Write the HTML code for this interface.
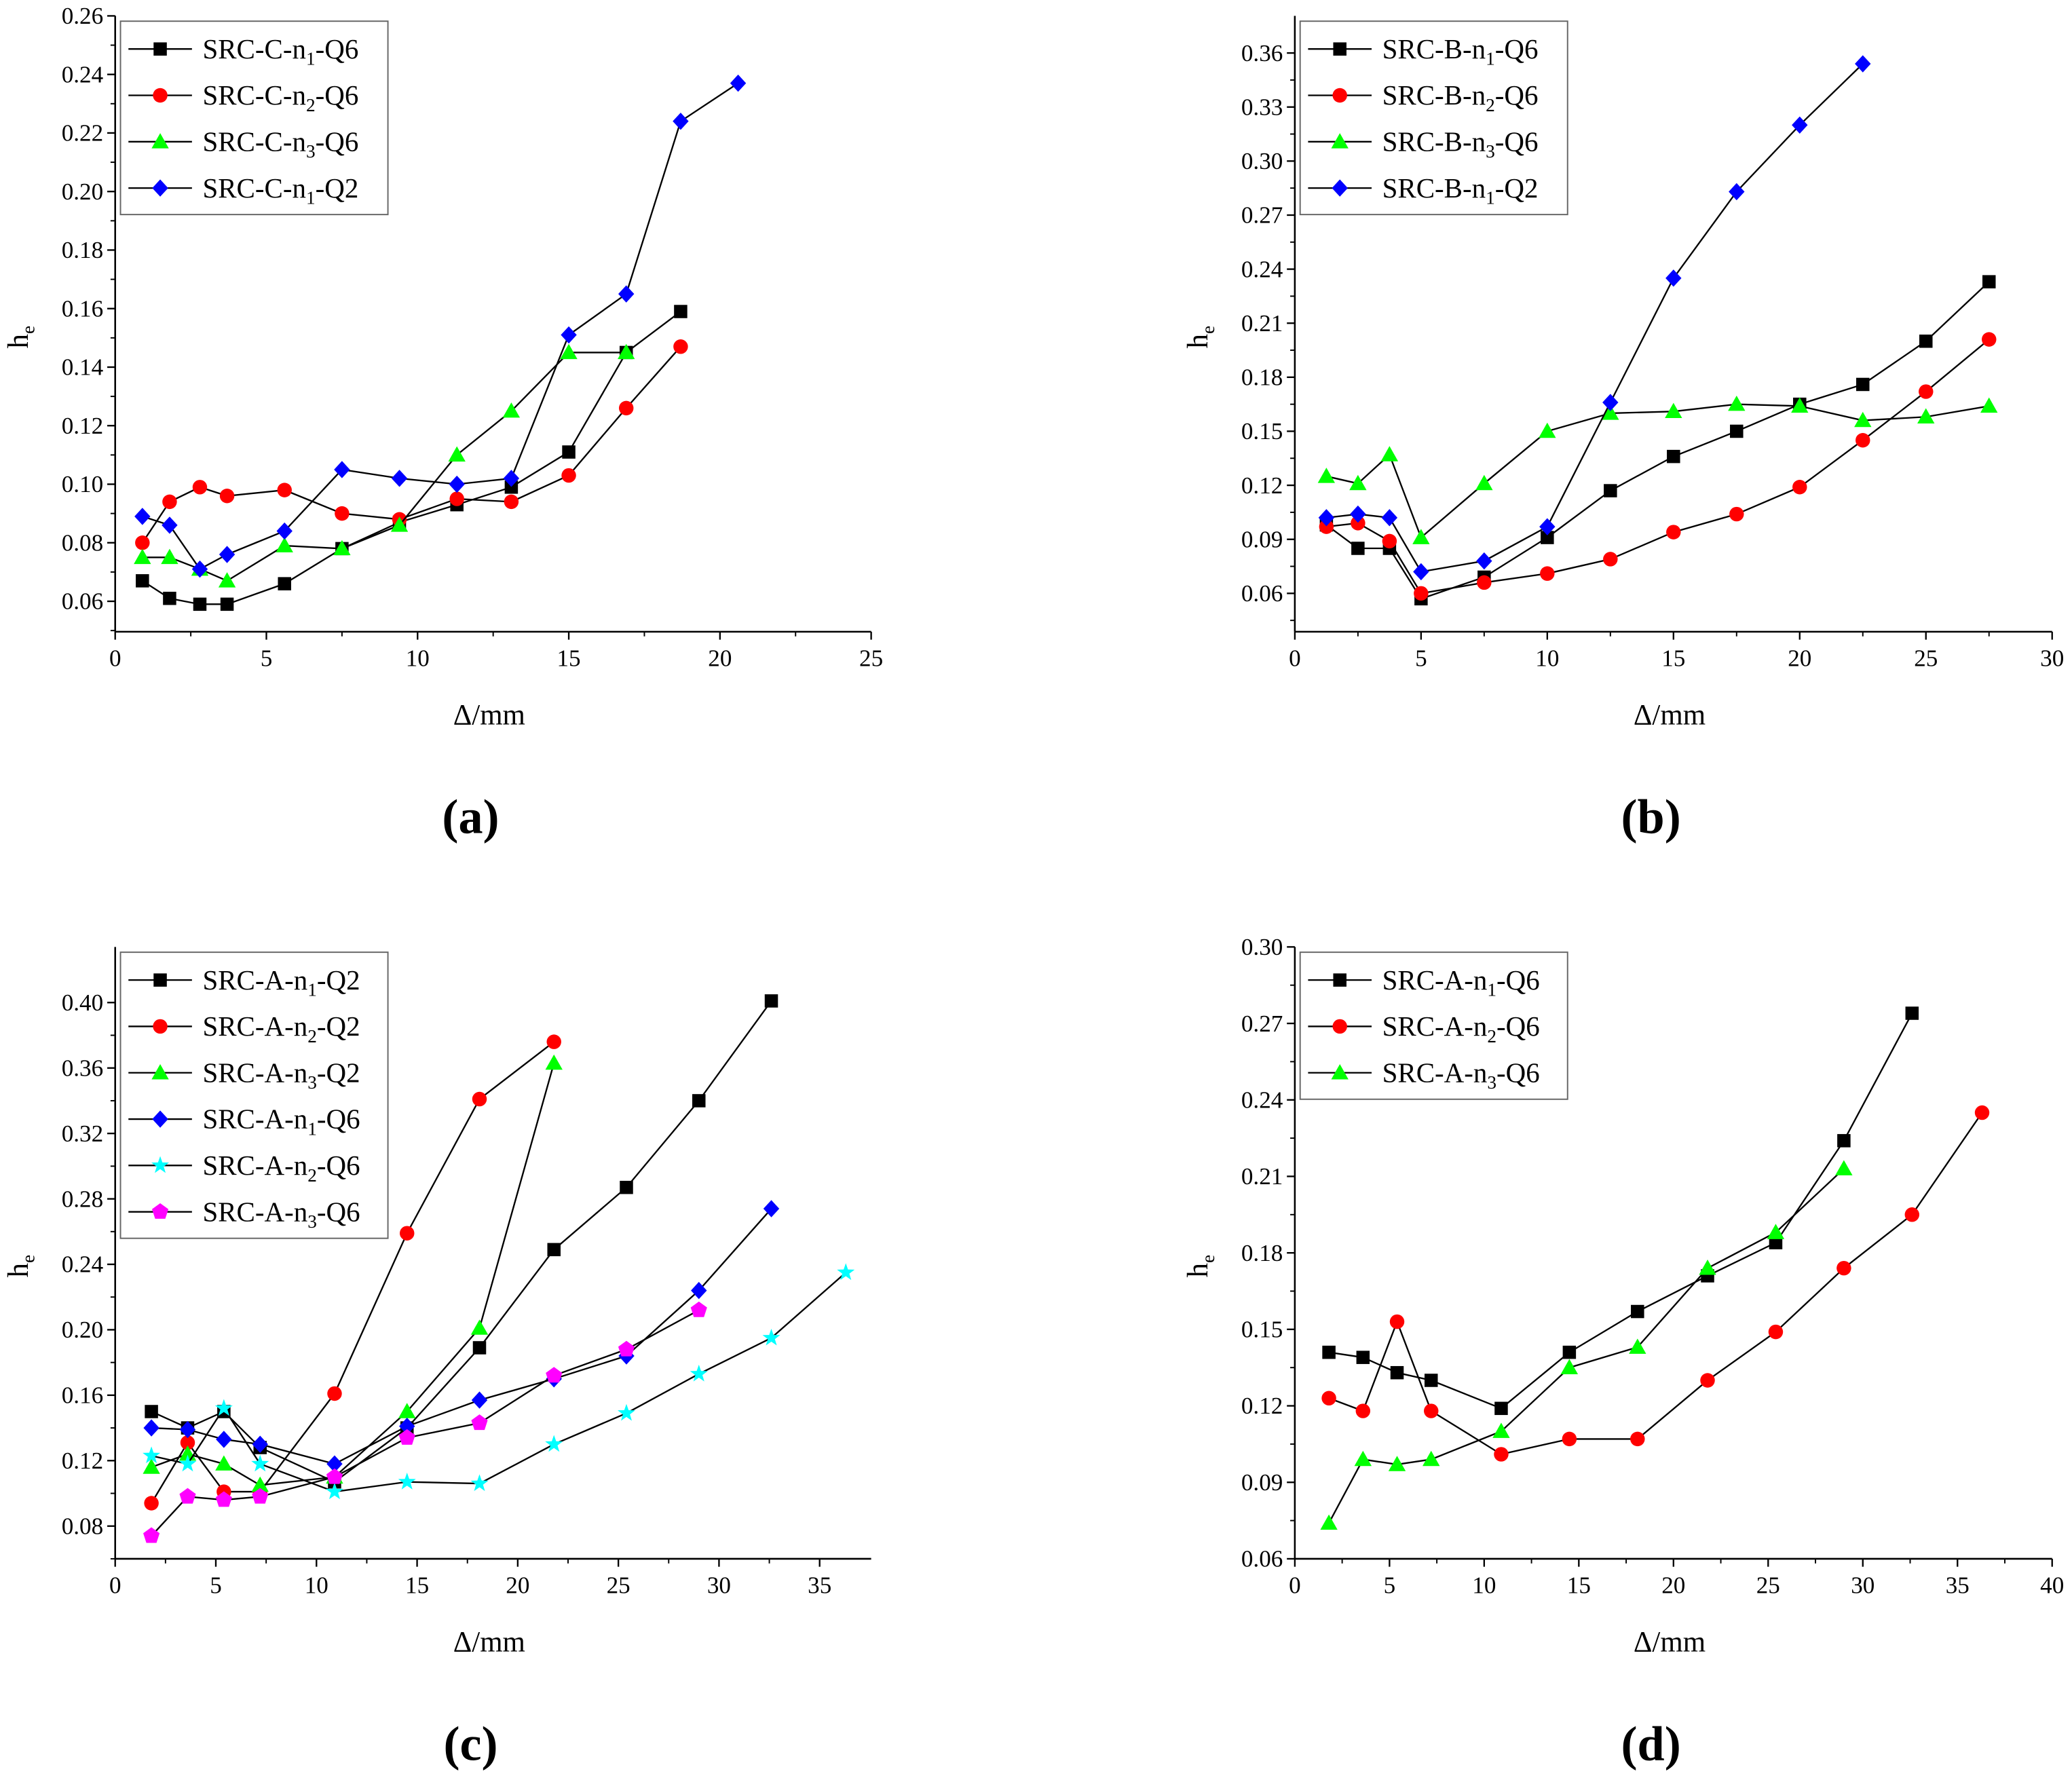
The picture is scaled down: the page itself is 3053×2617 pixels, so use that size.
<!DOCTYPE html>
<html><head><meta charset="utf-8"><style>
html,body{margin:0;padding:0;background:#fff}
svg{display:block}
text{font-family:"Liberation Serif",serif}
</style></head><body>
<svg id="fig" width="3053" height="2617" viewBox="0 0 1565 1341" preserveAspectRatio="none" xmlns="http://www.w3.org/2000/svg"></svg>
<script>
// Panel (a)
const aX = [0.9,1.8,2.8,3.7,5.6,7.5,9.4,11.3,13.1,15,16.9,18.7,20.6];
const aN1Q6 = [0.067,0.061,0.059,0.059,0.066,0.078,0.087,0.093,0.099,0.111,0.145,0.159];
const aN2Q6 = [0.080,0.094,0.099,0.096,0.098,0.090,0.088,0.095,0.094,0.103,0.126,0.147];
const aN3Q6 = [0.075,0.075,0.071,0.067,0.079,0.078,0.086,0.110,0.125,0.145,0.145];
const aN1Q2 = [0.089,0.086,0.071,0.076,0.084,0.105,0.102,0.100,0.102,0.151,0.165,0.224,0.237];
const aXTicks = [0,5,10,15,20,25];
const aYTicks = [0.06,0.08,0.10,0.12,0.14,0.16,0.18,0.20,0.22,0.24,0.26];
// Panel (b)
const bX = [1.25,2.5,3.75,5,7.5,10,12.5,15,17.5,20,22.5,25,27.5];
const bN1Q6 = [0.098,0.085,0.085,0.057,0.069,0.091,0.117,0.136,0.150,0.165,0.176,0.200,0.233];
const bN2Q6 = [0.097,0.099,0.089,0.060,0.066,0.071,0.079,0.094,0.104,0.119,0.145,0.172,0.201];
const bN3Q6 = [0.125,0.121,0.137,0.091,0.121,0.150,0.160,0.161,0.165,0.164,0.156,0.158,0.164];
const bN1Q2 = [0.102,0.104,0.102,0.072,0.078,0.097,0.166,0.235,0.283,0.320,0.354];
const bXTicks = [0,5,10,15,20,25,30];
const bYTicks = [0.06,0.09,0.12,0.15,0.18,0.21,0.24,0.27,0.30,0.33,0.36];
// Panel (c)
const cX = [1.8,3.6,5.4,7.2,10.9,14.5,18.1,21.8,25.4,29,32.6,36.3];
const cN1Q2 = [0.150,0.140,0.150,0.128,0.107,0.140,0.189,0.249,0.287,0.340,0.401];
const cN2Q2 = [0.094,0.131,0.101,0.101,0.161,0.259,0.341,0.376];
const cN3Q2 = [0.116,0.124,0.118,0.105,0.110,0.150,0.201,0.363];
const cN1Q6 = [0.140,0.139,0.133,0.130,0.118,0.141,0.157,0.170,0.184,0.224,0.274];
const cN2Q6 = [0.123,0.118,0.152,0.118,0.101,0.107,0.106,0.130,0.149,0.173,0.195,0.235];
const cN3Q6 = [0.074,0.098,0.096,0.098,0.110,0.134,0.143,0.172,0.188,0.212];
const cXTicks = [0,5,10,15,20,25,30,35];
const cYTicks = [0.08,0.12,0.16,0.20,0.24,0.28,0.32,0.36,0.40];
// Panel (d)
const dX = [1.8,3.6,5.4,7.2,10.9,14.5,18.1,21.8,25.4,29,32.6,36.3];
const dN1Q6 = [0.141,0.139,0.133,0.130,0.119,0.141,0.157,0.171,0.184,0.224,0.274];
const dN2Q6 = [0.123,0.118,0.153,0.118,0.101,0.107,0.107,0.130,0.149,0.174,0.195,0.235];
const dN3Q6 = [0.074,0.099,0.097,0.099,0.110,0.135,0.143,0.174,0.188,0.213];
const dXTicks = [0,5,10,15,20,25,30,35,40];
const dYTicks = [0.06,0.09,0.12,0.15,0.18,0.21,0.24,0.27,0.30];

const NS = "http://www.w3.org/2000/svg";
const svg = document.getElementById('fig');
function mk(tag, attrs, parent) {
  const e = document.createElementNS(NS, tag);
  for (const k in attrs) e.setAttribute(k, attrs[k]);
  (parent || svg).appendChild(e);
  return e;
}
function marker(g, type, color, x, y) {
  let m;
  if (type === 'square') m = mk('rect', {x:x-5, y:y-5, width:10, height:10, fill:color}, g);
  else if (type === 'circle') m = mk('circle', {cx:x, cy:y, r:5.5, fill:color}, g);
  else if (type === 'triangle') m = mk('polygon', {points:`${x},${y-6.5} ${x+6.5},${y+5} ${x-6.5},${y+5}`, fill:color}, g);
  else if (type === 'diamond') m = mk('polygon', {points:`${x},${y-6.5} ${x+6},${y} ${x},${y+6.5} ${x-6},${y}`, fill:color}, g);
  else if (type === 'star') {
    let p = [];
    for (let i = 0; i < 10; i++) { const r = i % 2 ? 2.8 : 7; const a = -Math.PI/2 + i*Math.PI/5; p.push((x+r*Math.cos(a)).toFixed(2)+','+(y+r*Math.sin(a)).toFixed(2)); }
    m = mk('polygon', {points:p.join(' '), fill:color}, g);
  } else if (type === 'pentagon') {
    let p = [];
    for (let i = 0; i < 5; i++) { const a = -Math.PI/2 + i*2*Math.PI/5; p.push((x+6.5*Math.cos(a)).toFixed(2)+','+(y+6.5*Math.sin(a)).toFixed(2)); }
    m = mk('polygon', {points:p.join(' '), fill:color}, g);
  }
  
  
  return m;
}
function panel(cfg) {
  const g = mk('g', {});
  
  
  const {x0, x1, y0, y1, xmin, xmax, ymin, ymax} = cfg;
  const sx = v => x0 + (v - xmin) / (xmax - xmin) * (x1 - x0);
  const sy = v => y0 - (v - ymin) / (ymax - ymin) * (y0 - y1);
  const ax = mk('line', {x1:x0, y1:y0, x2:x1, y2:y0, stroke:'#000', 'stroke-width':1.3}, g);
   
  const ay = mk('line', {x1:x0, y1:y0, x2:x0, y2:y1, stroke:'#000', 'stroke-width':1.3}, g);
   
  cfg.xTicks.forEach((t, i) => {
    const x = sx(t);
    mk('line', {x1:x, y1:y0, x2:x, y2:y0+6, stroke:'#000', 'stroke-width':1.2}, g);
    if (i < cfg.xTicks.length - 1) { const xm = sx(t + (cfg.xTicks[1]-cfg.xTicks[0])/2); mk('line', {x1:xm, y1:y0, x2:xm, y2:y0+3.5, stroke:'#000', 'stroke-width':1}, g); }
    const tx = mk('text', {x:x, y:y0+26, 'font-size':18, 'text-anchor':'middle'}, g);
    tx.textContent = t;
     
  });
  cfg.yTicks.forEach((t, i) => {
    const y = sy(t);
    mk('line', {x1:x0, y1:y, x2:x0-6, y2:y, stroke:'#000', 'stroke-width':1.2}, g);
    const st = cfg.yTicks[1]-cfg.yTicks[0];
    const ym = sy(t - st/2);
    if (ym <= y0) mk('line', {x1:x0, y1:ym, x2:x0-3.5, y2:ym, stroke:'#000', 'stroke-width':1}, g);
    const ty = mk('text', {x:x0-9, y:y+6, 'font-size':18, 'text-anchor':'end'}, g);
    ty.textContent = t.toFixed(2);
     
  });
  const xt = mk('text', {x:(x0+x1)/2-3, y:y0+70, 'font-size':22, 'text-anchor':'middle'}, g);
  xt.textContent = 'Δ/mm';
   
  const yt = mk('text', {x:0, y:0, 'font-size':22, 'text-anchor':'middle', transform:`translate(${x0-66},${(y0+y1)/2+10}) rotate(-90)`}, g);
  yt.innerHTML = 'h<tspan font-size="14" dy="5">e</tspan>';
   
  cfg.series.forEach(s => {
    const pts = s.y.map((v, i) => sx(cfg.x[i]).toFixed(2) + ',' + sy(v).toFixed(2)).join(' ');
    const pl = mk('polyline', {points:pts, fill:'none', stroke:'#000', 'stroke-width':1.2}, g);
     
    s.y.forEach((v, i) => marker(g, s.m, s.c, sx(cfg.x[i]), sy(v)));
  });
  const lg = mk('g', {}, g);
   
  const lh = cfg.series.length * 35 + 6;
  mk('rect', {x:x0+4, y:y1+4, width:202, height:lh, fill:'#fff', stroke:'#666', 'stroke-width':1}, lg);
  cfg.series.forEach((s, i) => {
    const y = y1 + 25 + i*35;
    const le = mk('g', {}, lg);
     
    mk('line', {x1:x0+10, y1:y, x2:x0+58, y2:y, stroke:'#000', 'stroke-width':1.2}, le);
    marker(le, s.m, s.c, x0+34, y);
    const t = mk('text', {x:x0+66, y:y+7, 'font-size':21}, le);
    const p = s.name.split('|');
    t.innerHTML = p[0] + '<tspan font-size="14" dy="5">' + p[1] + '</tspan><tspan dy="-5">' + p[2] + '</tspan>';
  });
  const pl = mk('text', {x:(x0+x1)/2-17, y:y0+152, 'font-size':37, 'font-weight':'bold', 'text-anchor':'middle'}, g);
  pl.textContent = '(' + cfg.label + ')';
   
}
panel({label:'a', x0:87, x1:658, y0:477, y1:12, xmin:0, xmax:25, ymin:0.0496, ymax:0.26, x:aX, xTicks:aXTicks, yTicks:aYTicks, series:[
  {name:'SRC-C-n|1|-Q6', y:aN1Q6, m:'square', c:'#000'},
  {name:'SRC-C-n|2|-Q6', y:aN2Q6, m:'circle', c:'#f00'},
  {name:'SRC-C-n|3|-Q6', y:aN3Q6, m:'triangle', c:'#0f0'},
  {name:'SRC-C-n|1|-Q2', y:aN1Q2, m:'diamond', c:'#00f'}]});
panel({label:'b', x0:978, x1:1550, y0:477, y1:12, xmin:0, xmax:30, ymin:0.0387, ymax:0.3806, x:bX, xTicks:bXTicks, yTicks:bYTicks, series:[
  {name:'SRC-B-n|1|-Q6', y:bN1Q6, m:'square', c:'#000'},
  {name:'SRC-B-n|2|-Q6', y:bN2Q6, m:'circle', c:'#f00'},
  {name:'SRC-B-n|3|-Q6', y:bN3Q6, m:'triangle', c:'#0f0'},
  {name:'SRC-B-n|1|-Q2', y:bN1Q2, m:'diamond', c:'#00f'}]});
panel({label:'c', x0:87, x1:658, y0:1177, y1:715, xmin:0, xmax:37.56, ymin:0.06, ymax:0.434, x:cX, xTicks:cXTicks, yTicks:cYTicks, series:[
  {name:'SRC-A-n|1|-Q2', y:cN1Q2, m:'square', c:'#000'},
  {name:'SRC-A-n|2|-Q2', y:cN2Q2, m:'circle', c:'#f00'},
  {name:'SRC-A-n|3|-Q2', y:cN3Q2, m:'triangle', c:'#0f0'},
  {name:'SRC-A-n|1|-Q6', y:cN1Q6, m:'diamond', c:'#00f'},
  {name:'SRC-A-n|2|-Q6', y:cN2Q6, m:'star', c:'#0ff'},
  {name:'SRC-A-n|3|-Q6', y:cN3Q6, m:'pentagon', c:'#f0f'}]});
panel({label:'d', x0:978, x1:1550, y0:1177, y1:715, xmin:0, xmax:40, ymin:0.06, ymax:0.30, x:dX, xTicks:dXTicks, yTicks:dYTicks, series:[
  {name:'SRC-A-n|1|-Q6', y:dN1Q6, m:'square', c:'#000'},
  {name:'SRC-A-n|2|-Q6', y:dN2Q6, m:'circle', c:'#f00'},
  {name:'SRC-A-n|3|-Q6', y:dN3Q6, m:'triangle', c:'#0f0'}]});
</script>
</body></html>
